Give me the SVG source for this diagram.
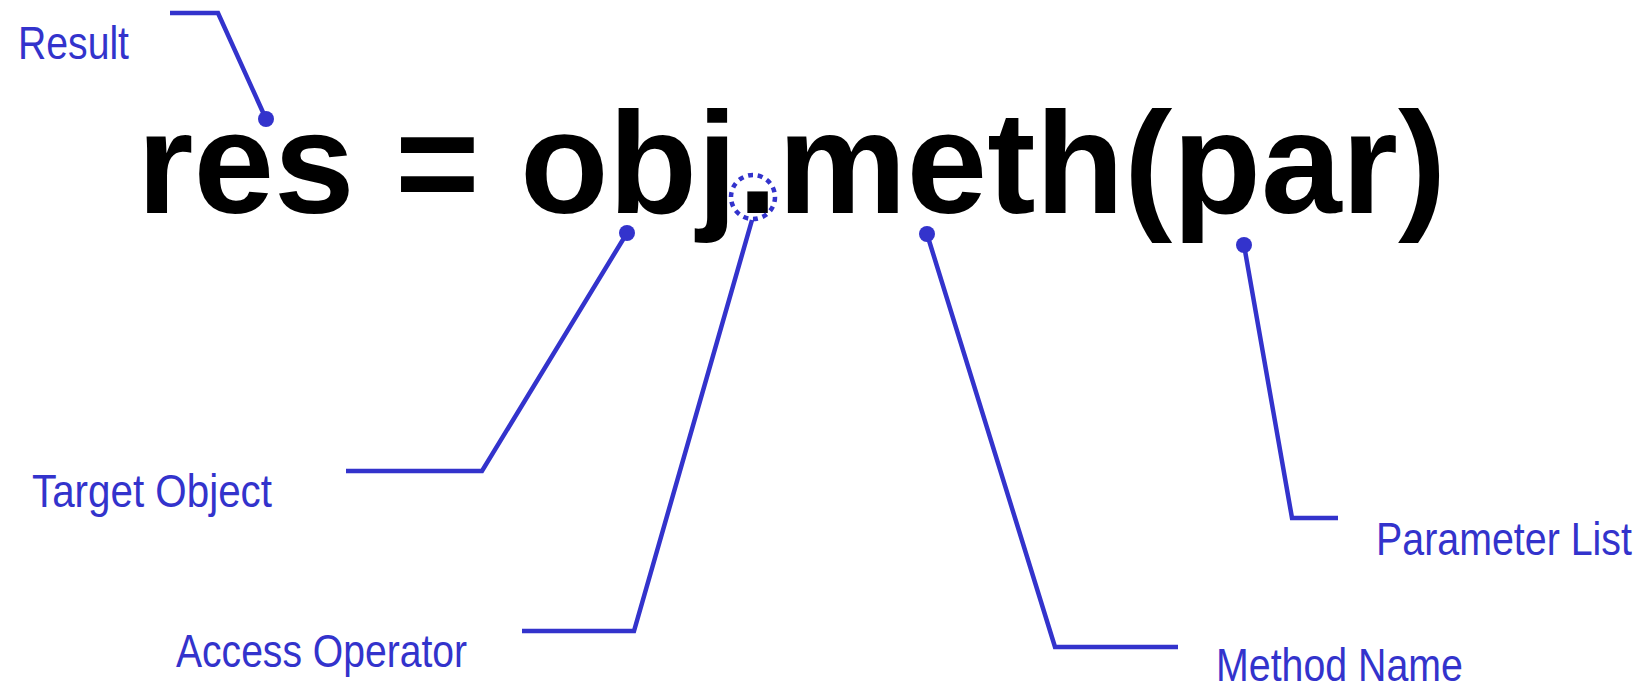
<svg xmlns="http://www.w3.org/2000/svg" width="1644" height="686" viewBox="0 0 1644 686">
<style>
.code{font-family:"Liberation Sans",Arial,sans-serif;font-weight:bold;font-size:145px;fill:#000}
.lbl{font-family:"Liberation Sans",Arial,sans-serif;font-size:46px;fill:#3333CC}
.ln{fill:none;stroke:#3333CC;stroke-width:4.5;stroke-linejoin:miter}
.dot{fill:#3333CC}
.ring{fill:none;stroke:#3333CC;stroke-width:4.5;stroke-dasharray:5 4.8}
</style>
<rect width="1644" height="686" fill="#fff"/>
<g id="code">
<text class="code" x="137" y="213">res = obj.meth(par)</text>
</g>
<g id="connectors">
<polyline class="ln" points="170,13 218,13 266,119"/>
<circle class="dot" cx="266" cy="119" r="8"/>
<polyline class="ln" points="627,233 482,471 346,471"/>
<circle class="dot" cx="627" cy="233" r="8"/>
<circle class="ring" cx="753" cy="197" r="22"/>
<polyline class="ln" points="752,220 634,631 522,631"/>
<polyline class="ln" points="927,234 1055,647 1178,647"/>
<circle class="dot" cx="927" cy="234" r="8"/>
<polyline class="ln" points="1244,245 1292,518 1338,518"/>
<circle class="dot" cx="1244" cy="245" r="8"/>
</g>
<g id="label-result">
<text class="lbl" x="18" y="59" textLength="111" lengthAdjust="spacingAndGlyphs">Result</text>
</g>
<g id="label-target">
<text class="lbl" x="32" y="507" textLength="240" lengthAdjust="spacingAndGlyphs">Target Object</text>
</g>
<g id="label-access">
<text class="lbl" x="176" y="667" textLength="291" lengthAdjust="spacingAndGlyphs">Access Operator</text>
</g>
<g id="label-method">
<text class="lbl" x="1216" y="681" textLength="247" lengthAdjust="spacingAndGlyphs">Method Name</text>
</g>
<g id="label-param">
<text class="lbl" x="1376" y="555" textLength="256" lengthAdjust="spacingAndGlyphs">Parameter List</text>
</g>
</svg>
